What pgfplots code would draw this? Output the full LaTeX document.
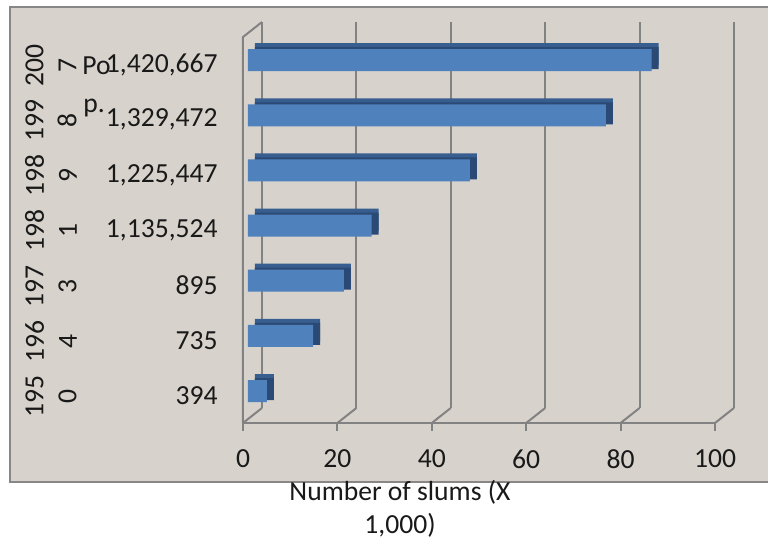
\documentclass[border=0pt]{standalone}
\usepackage{pgfplots}
\pgfplotsset{compat=1.18}
\usepackage{fontspec}
\setmainfont{Carlito}
\definecolor{bgc}{RGB}{215,211,204}
\definecolor{boxc}{RGB}{135,135,135}
\definecolor{gridc}{RGB}{130,130,130}
\definecolor{barc}{RGB}{79,129,189}
\definecolor{topc}{RGB}{56,94,143}
\definecolor{sidec}{RGB}{42,73,116}
\definecolor{txtc}{RGB}{25,25,25}
\newcommand{\lblfont}{\fontsize{13.8}{16.5}\selectfont}
\begin{document}
\begin{tikzpicture}
\useasboundingbox (0,0) rectangle (384pt,271pt);
\fill[white] (0,0) rectangle (384pt,271pt);
\fill[bgc] (5pt,30pt) rectangle (384pt,267.5pt);
\draw[boxc, line width=1pt] (384pt,267.5pt) -- (5pt,267.5pt) -- (5pt,30pt) -- (384pt,30pt);
\begin{axis}[
  at={(121.5pt,59.5pt)}, anchor=south west,
  scale only axis, width=236pt, height=193pt,
  xmin=0, xmax=100, ymin=-0.5, ymax=6.5,
  clip=false,
  axis line style={draw=none},
  major tick length=0pt, tick style={draw=none},
  xtick={0,20,40,60,80,100},
  ytick={0,1,2,3,4,5,6},
  yticklabels={394,735,895,{1,135,524},{1,225,447},{1,329,472},{1,420,667}},
  /pgf/number format/assume math mode=true,
  ticklabel style={font=\lblfont, text=txtc, inner sep=0pt},
  xticklabel style={anchor=north, yshift=-13pt},
  yticklabel style={anchor=east, xshift=-12.5pt},
]
% 3D walls / gridlines
\pgfplotsinvokeforeach{0,20,40,60,80,100}{
  \draw[gridc, line width=1pt] ([shift={(9.5pt,7.5pt)}]axis cs:#1,-0.5) -- ([shift={(9.5pt,7.5pt)}]axis cs:#1,6.5);
  \draw[gridc, line width=1pt] (axis cs:#1,-0.5) -- ([shift={(9.5pt,7.5pt)}]axis cs:#1,-0.5);
  \draw[gridc, line width=1pt] (axis cs:#1,-0.5) -- ([yshift=-4pt]axis cs:#1,-0.5);
}
\draw[gridc, line width=1pt] (axis cs:0,-0.5) -- (axis cs:100,-0.5);
\draw[gridc, line width=1pt] (axis cs:0,-0.5) -- (axis cs:0,6.5) -- ([shift={(9.5pt,7.5pt)}]axis cs:0,6.5);
% bars: top face, side face, front face
\addplot[xbar, bar width=11pt, bar shift=0pt, fill=topc, draw=none, xshift=6pt, yshift=5.2pt]
  coordinates {(4,0) (13.8,1) (20.3,2) (26.2,3) (47,4) (75.8,5) (85.5,6)};
\addplot[xbar, bar width=11pt, bar shift=0pt, fill=sidec, draw=none, xshift=6pt, yshift=3.2pt]
  coordinates {(4,0) (13.8,1) (20.3,2) (26.2,3) (47,4) (75.8,5) (85.5,6)};
\addplot[xbar, bar width=11pt, bar shift=0pt, fill=barc, draw=none, xshift=2.5pt, yshift=2.2pt]
  coordinates {(4,0) (13.8,1) (20.3,2) (26.2,3) (47,4) (75.8,5) (85.5,6)};
% year labels
\node[rotate=90, align=center, inner sep=0pt, font=\lblfont, text=txtc] at ([xshift=-96pt,yshift=-0.5pt]axis cs:0,0) {195\\0};
\node[rotate=90, align=center, inner sep=0pt, font=\lblfont, text=txtc] at ([xshift=-96pt,yshift=-0.5pt]axis cs:0,1) {196\\4};
\node[rotate=90, align=center, inner sep=0pt, font=\lblfont, text=txtc] at ([xshift=-96pt,yshift=-0.5pt]axis cs:0,2) {197\\3};
\node[rotate=90, align=center, inner sep=0pt, font=\lblfont, text=txtc] at ([xshift=-96pt,yshift=-0.5pt]axis cs:0,3) {198\\1};
\node[rotate=90, align=center, inner sep=0pt, font=\lblfont, text=txtc] at ([xshift=-96pt,yshift=-0.5pt]axis cs:0,4) {198\\9};
\node[rotate=90, align=center, inner sep=0pt, font=\lblfont, text=txtc] at ([xshift=-96pt,yshift=-0.5pt]axis cs:0,5) {199\\8};
\node[rotate=90, align=center, inner sep=0pt, font=\lblfont, text=txtc] at ([xshift=-96pt,yshift=-0.5pt]axis cs:0,6) {200\\7};
\end{axis}
\node[anchor=base west, inner sep=0pt, font=\lblfont, text=txtc] at (41pt,233.5pt) {Po};
\node[anchor=base west, inner sep=0pt, font=\lblfont, text=txtc] at (41.5pt,214.5pt) {p.};
\node[align=center, inner sep=0pt, font=\lblfont, text=txtc] at (200pt,16.75pt) {Number of slums (X\\1,000)};
\end{tikzpicture}
\end{document}
